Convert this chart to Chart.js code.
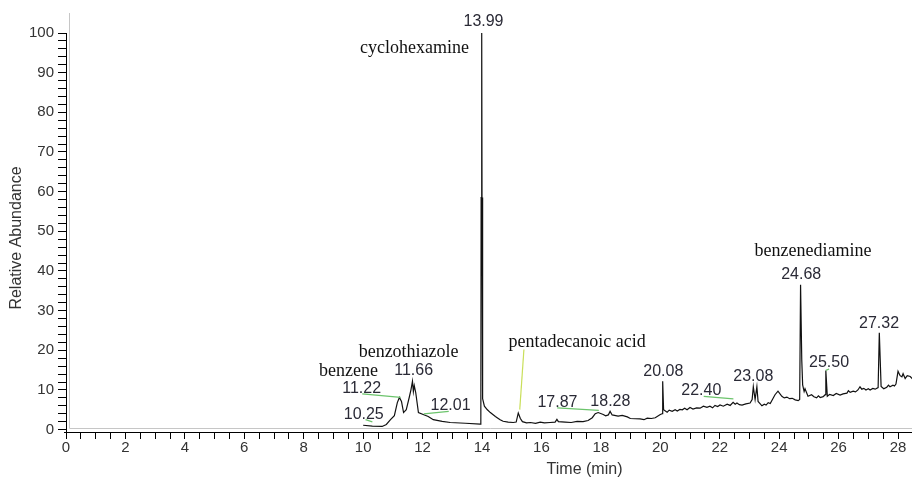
<!DOCTYPE html>
<html>
<head>
<meta charset="utf-8">
<script src="https://cdn.jsdelivr.net/npm/chart.js@4.4.1/dist/chart.umd.min.js"></script>
<style>
  html, body { margin: 0; padding: 0; background: #fff; }
</style>
</head>
<body>
<canvas id="chrom" width="914" height="481"></canvas>
<script>
// retention time (min) and relative abundance of the trace
const retentionTimes = [
  10.00, 10.31, 10.64, 10.78, 10.92, 11.05, 11.15, 11.22, 11.29, 11.36,
  11.45, 11.55, 11.61, 11.66, 11.69, 11.72, 11.77, 11.86, 12.02, 12.19,
  12.36, 12.66, 12.93, 13.44, 13.94, 13.96, 13.97, 13.99, 14.00, 14.01,
  14.03, 14.08, 14.18, 14.28, 14.45, 14.51, 14.61, 14.71, 14.88, 15.05,
  15.15, 15.22, 15.29, 15.36, 15.50, 15.63, 15.80, 15.96, 16.10, 16.29,
  16.46, 16.52, 16.57, 16.80, 17.00, 17.20, 17.40, 17.57, 17.71, 17.81,
  17.91, 18.08, 18.16, 18.25, 18.31, 18.38, 18.58, 18.72, 18.89, 18.99,
  19.32, 19.45, 19.56, 19.70, 19.83, 20.00, 20.06, 20.08, 20.11, 20.23,
  20.30, 20.40, 20.50, 20.57, 20.66, 20.74, 20.82, 20.90, 21.00, 21.10,
  21.22, 21.34, 21.45, 21.57, 21.67, 21.76, 21.84, 21.93, 22.01, 22.12,
  22.25, 22.35, 22.45, 22.52, 22.58, 22.66, 22.75, 22.88, 23.02, 23.09,
  23.13, 23.19, 23.25, 23.29, 23.42, 23.50, 23.56, 23.63, 23.70, 23.86,
  23.96, 24.09, 24.17, 24.26, 24.35, 24.44, 24.54, 24.64, 24.69, 24.72,
  24.76, 24.79, 24.84, 24.87, 24.97, 25.09, 25.17, 25.26, 25.32, 25.38,
  25.48, 25.55, 25.57, 25.62, 25.70, 25.82, 25.92, 26.05, 26.15, 26.28,
  26.33, 26.39, 26.49, 26.57, 26.65, 26.72, 26.78, 26.85, 26.92, 27.00,
  27.06, 27.15, 27.23, 27.33, 27.37, 27.43, 27.52, 27.62, 27.68, 27.73,
  27.83, 27.88, 27.93, 28.00, 28.07, 28.13, 28.17, 28.24, 28.31, 28.41, 28.51
];
const abundance = [
  1.1, 0.9, 0.8, 1.3, 2.5, 3.5, 6.8, 8.1, 7.1, 4.3,
  5.0, 8.1, 10.1, 12.2, 9.6, 11.1, 9.3, 4.3, 3.8, 3.3,
  2.5, 2.1, 1.8, 1.6, 1.4, 1.5, 58.5, 100, 58.5, 31.6,
  7.8, 5.9, 5.0, 4.3, 3.3, 3.0, 2.5, 2.1, 1.9, 1.8,
  1.9, 4.2, 2.8, 2.0, 1.7, 1.8, 1.6, 1.9, 1.7, 1.8,
  1.9, 2.6, 2.0, 1.9, 1.8, 2.1, 2.0, 2.3, 3.0, 4.0,
  4.3, 3.8, 3.5, 3.7, 4.6, 3.7, 3.4, 3.6, 3.2, 2.8,
  2.7, 2.5, 2.9, 2.8, 3.0, 3.8, 4.0, 12.2, 5.0, 4.4,
  4.9, 4.6, 5.0, 4.7, 5.1, 5.0, 5.4, 5.0, 5.6, 5.2,
  5.5, 5.4, 5.9, 5.6, 5.9, 5.5, 6.1, 5.8, 6.2, 5.9,
  6.4, 6.1, 6.9, 6.4, 6.7, 6.3, 6.2, 6.5, 6.7, 7.6,
  10.8, 7.6, 10.8, 7.1, 6.0, 6.4, 6.2, 6.8, 6.6, 8.8,
  9.7, 8.4, 8.0, 8.2, 7.8, 7.9, 7.5, 7.3, 7.6, 36.5,
  17.6, 11.3, 9.6, 10.3, 8.4, 8.8, 8.3, 8.0, 8.5, 8.1,
  8.3, 8.8, 14.9, 8.4, 8.9, 8.6, 9.1, 8.7, 9.0, 9.2,
  9.8, 9.4, 9.7, 9.5, 10.0, 10.8, 10.2, 10.4, 10.0, 10.3,
  10.0, 10.4, 10.2, 10.6, 24.4, 10.9, 10.3, 10.7, 11.2, 10.8,
  11.2, 11.0, 11.5, 14.7, 13.6, 13.3, 14.1, 12.9, 13.6, 13.4, 12.6
];

const xTickLabels = [0, 2, 4, 6, 8, 10, 12, 14, 16, 18, 20, 22, 24, 26, 28];
const yTickLabels = [0, 10, 20, 30, 40, 50, 60, 70, 80, 90, 100];
const xMinorStep = 0.5;
const yMinorStep = 2;

const peakLabels = ['13.99', '11.66', '11.22', '10.25', '12.01', '17.87', '18.28', '20.08', '22.40', '23.08', '24.68', '25.50', '27.32'];
const compoundNames = ['cyclohexamine', 'benzothiazole', 'benzene', 'pentadecanoic acid', 'benzenediamine'];

// where each text sits: [time, abundance] of its centre at the baseline
const textSpots = {
  '13.99': [14.05, 101.8], '11.66': [11.70, 13.7], '11.22': [9.95, 9.25], '10.25': [10.02, 2.7],
  '12.01': [12.94, 4.9], '17.87': [16.54, 5.7], '18.28': [18.32, 6.05], '20.08': [20.10, 13.6],
  '22.40': [21.38, 8.8], '23.08': [23.13, 12.2], '24.68': [24.74, 38.0], '25.50': [25.68, 15.8],
  '27.32': [27.36, 25.6],
  'cyclohexamine': [11.73, 95.0], 'benzothiazole': [11.53, 18.4], 'benzene': [9.51, 13.4],
  'pentadecanoic acid': [17.2, 20.8], 'benzenediamine': [25.14, 43.7]
};

// leader lines [t1, v1, t2, v2]
const greenLeaders = [
  [9.97, 9.0, 11.26, 8.14],
  [10.08, 2.52, 10.31, 1.94],
  [12.04, 3.96, 12.88, 4.61],
  [16.53, 5.47, 17.93, 4.87],
  [21.46, 8.39, 22.46, 7.74],
  [25.57, 14.95, 25.68, 15.3]
];
const yellowLeaders = [
  [15.41, 20.2, 15.27, 5.04]
];

const tracePoints = retentionTimes.map((t, i) => ({ x: t, y: abundance[i] }));

const decor = {
  id: 'decor',
  beforeDatasetsDraw(chart) {
    const { ctx, chartArea, scales: { x, y } } = chart;
    ctx.save();
    ctx.strokeStyle = '#c6c6c6';
    ctx.lineWidth = 1;
    const gx = Math.round(x.getPixelForValue(0)) + 3.5;
    const gy = Math.round(y.getPixelForValue(0)) - 1.5;
    ctx.beginPath();
    ctx.moveTo(gx, 13);
    ctx.lineTo(gx, gy);
    ctx.lineTo(chartArea.right, gy);
    ctx.stroke();
    ctx.restore();
  },
  afterDraw(chart) {
    const { ctx, chartArea, scales: { x, y } } = chart;
    ctx.save();

    // axis lines
    ctx.strokeStyle = '#000';
    ctx.lineWidth = 1;
    ctx.beginPath();
    const ax = Math.round(chartArea.left) + 0.5;
    const ay = Math.round(chartArea.bottom) + 0.5;
    ctx.moveTo(ax, Math.round(y.getPixelForValue(100)));
    ctx.lineTo(ax, ay);
    ctx.moveTo(chartArea.left - 2, ay);
    ctx.lineTo(chartArea.right, ay);
    ctx.stroke();

    // leader lines
    const seg = (l, color) => {
      ctx.strokeStyle = color;
      ctx.lineWidth = 1.2;
      ctx.beginPath();
      ctx.moveTo(x.getPixelForValue(l[0]), y.getPixelForValue(l[1]));
      ctx.lineTo(x.getPixelForValue(l[2]), y.getPixelForValue(l[3]));
      ctx.stroke();
    };
    greenLeaders.forEach(l => seg(l, '#6cc46c'));
    yellowLeaders.forEach(l => seg(l, '#c9df5a'));

    // peak labels
    ctx.textAlign = 'center';
    ctx.textBaseline = 'alphabetic';
    ctx.fillStyle = '#2a2a36';
    ctx.font = '16px "Liberation Sans", Arial, sans-serif';
    peakLabels.forEach(s => {
      const p = textSpots[s];
      ctx.fillText(s, x.getPixelForValue(p[0]), y.getPixelForValue(p[1]));
    });
    ctx.fillStyle = '#111';
    ctx.font = '18px "Liberation Serif", "Times New Roman", serif';
    compoundNames.forEach(s => {
      const p = textSpots[s];
      ctx.fillText(s, x.getPixelForValue(p[0]), y.getPixelForValue(p[1]));
    });

    // axis titles
    ctx.fillStyle = '#333';
    ctx.font = '16px "Liberation Sans", Arial, sans-serif';
    ctx.textBaseline = 'middle';
    ctx.fillText('Time (min)', x.getPixelForValue(17.45), 470);
    ctx.translate(17, 238);
    ctx.rotate(-Math.PI / 2);
    ctx.fillText('Relative Abundance', 0, 0);
    ctx.restore();
  }
};

new Chart(document.getElementById('chrom'), {
  type: 'line',
  data: {
    datasets: [{
      data: tracePoints,
      borderColor: '#111',
      borderWidth: 1.2,
      pointRadius: 0,
      tension: 0,
      fill: false
    }]
  },
  options: {
    responsive: false,
    animation: false,
    devicePixelRatio: 1,
    layout: { padding: { top: 33, right: 2, left: 0, bottom: 0 } },
    plugins: { legend: { display: false }, tooltip: { enabled: false } },
    scales: {
      x: {
        type: 'linear',
        min: 0,
        max: 28.47,
        afterBuildTicks: (scale) => {
          const t = [];
          for (let i = 0; i * xMinorStep <= 28.47; i++) t.push({ value: i * xMinorStep });
          scale.ticks = t;
        },
        afterFit: (scale) => { scale.height = 49; },
        border: { display: false },
        grid: { drawOnChartArea: false, drawTicks: true, tickLength: 7, tickColor: '#000', tickWidth: 1 },
        ticks: {
          autoSkip: false,
          maxRotation: 0,
          minRotation: 0,
          padding: 0,
          color: '#333',
          font: { family: '"Liberation Sans", Arial, sans-serif', size: 15 },
          callback: (v) => xTickLabels.includes(v) ? String(v) : ''
        }
      },
      y: {
        min: -0.6,
        max: 100,
        afterBuildTicks: (scale) => {
          const t = [];
          for (let i = 0; i * yMinorStep <= 100; i++) t.push({ value: i * yMinorStep });
          scale.ticks = t;
        },
        afterFit: (scale) => { scale.width = 66; },
        border: { display: false },
        grid: { drawOnChartArea: false, drawTicks: true, tickLength: 8, tickColor: '#000', tickWidth: 1 },
        ticks: {
          autoSkip: false,
          padding: 4,
          color: '#333',
          font: { family: '"Liberation Sans", Arial, sans-serif', size: 15 },
          callback: (v) => yTickLabels.includes(v) ? String(v) : ''
        }
      }
    }
  },
  plugins: [decor]
});
</script>
</body>
</html>
